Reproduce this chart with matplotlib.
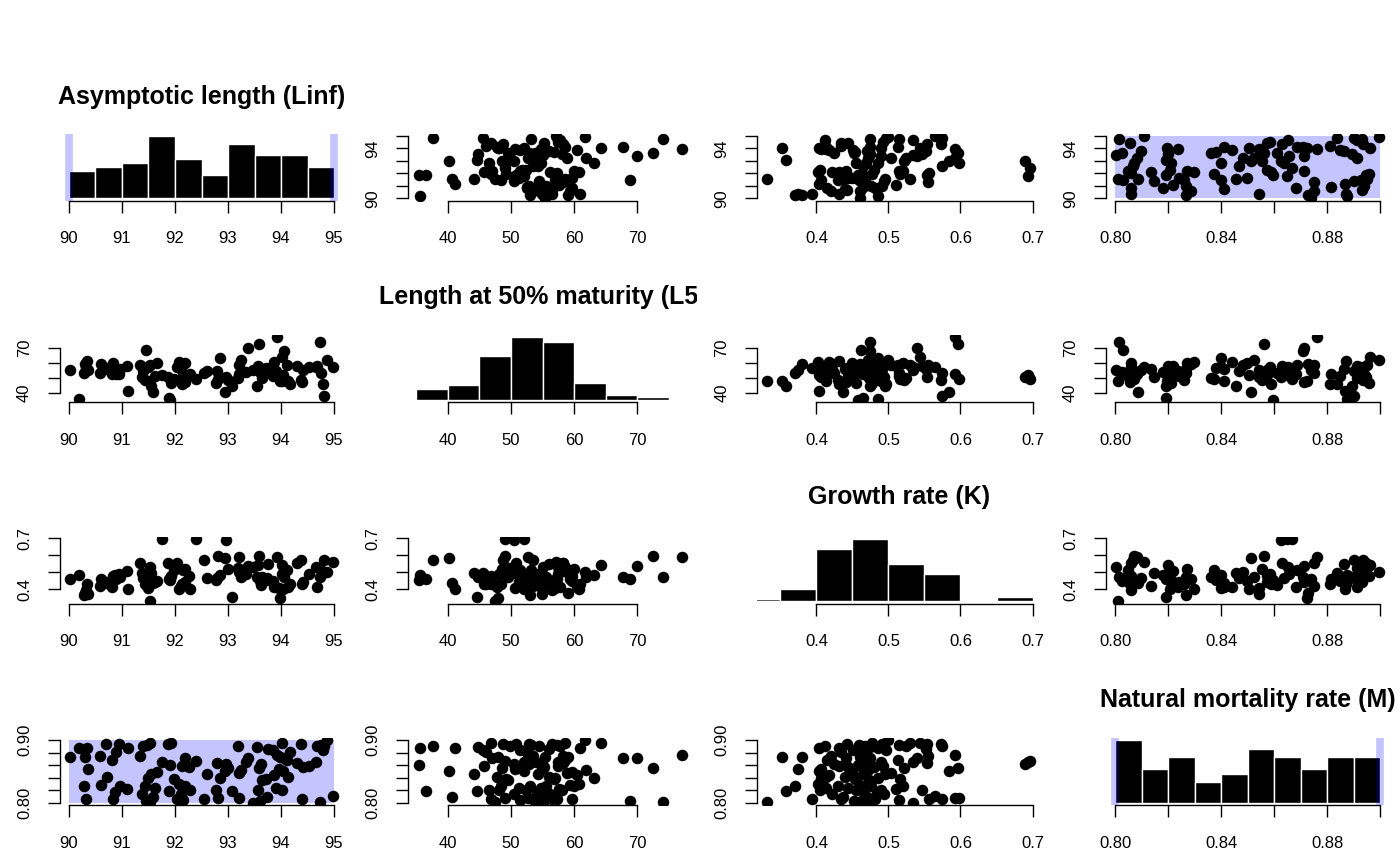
import matplotlib
matplotlib.use("Agg")
import matplotlib.pyplot as plt
from matplotlib.patches import Rectangle
from matplotlib.transforms import Bbox, TransformedBbox

plt.rcParams['font.family'] = ['Liberation Sans', 'DejaVu Sans']

linf = [93.47, 91.52, 94.74, 93.61, 91.46, 92.16, 94.39, 92.03, 90.84, 90.32,
        92.55, 92.82, 93.21, 91.58, 93.74, 94.98, 92.12, 91.37, 90.86, 93.08,
        91.89, 94.02, 93.57, 92.29, 92.78, 91.10, 93.90, 91.63, 91.44, 90.97,
        90.28, 92.19, 90.60, 92.07, 93.64, 91.98, 93.71, 92.85, 91.49, 94.13,
        90.71, 93.87, 91.55, 92.60, 93.20, 91.66, 94.04, 92.95, 93.24, 93.96,
        90.35, 93.00, 93.58, 94.42, 92.26, 94.53, 92.14, 91.90, 93.62, 92.97,
        94.30, 92.80, 91.76, 94.66, 93.34, 92.40, 90.81, 94.11, 94.06, 93.37,
        92.18, 93.98, 90.30, 90.02, 91.34, 90.58, 93.92, 94.16, 90.88, 94.79,
        93.84, 93.76, 91.12, 90.34, 90.18, 93.55, 94.82, 91.39, 94.68, 93.18,
        91.47, 94.76, 90.69, 94.37, 90.95, 91.86, 91.53, 91.92, 94.01, 94.87]

l50 = [55.0, 47.5, 74.0, 53.8, 68.8, 51.5, 46.9, 57.3, 59.6, 56.5,
       53.4, 49.0, 52.7, 40.7, 55.3, 57.1, 56.2, 50.4, 54.1, 44.6,
       36.5, 48.1, 58.0, 52.3, 46.5, 57.6, 54.7, 51.2, 48.4, 55.6,
       53.0, 59.9, 59.3, 60.8, 49.5, 49.2, 56.8, 63.1, 57.0, 47.8,
       56.0, 60.5, 44.2, 54.2, 58.8, 59.6, 52.0, 40.2, 61.9, 50.6,
       54.9, 48.5, 72.5, 55.2, 51.7, 57.5, 45.8, 35.4, 52.9, 50.5,
       58.2, 54.8, 52.0, 57.4, 54.0, 49.0, 52.5, 58.5, 67.7, 70.0,
       47.0, 48.0, 59.0, 55.4, 58.3, 53.5, 77.0, 46.0, 52.6, 45.6,
       51.4, 56.0, 41.2, 60.9, 35.6, 44.8, 37.7, 54.5, 57.8, 49.8,
       57.2, 53.2, 56.5, 48.8, 52.8, 50.8, 58.6, 46.8, 64.2, 61.7]

k = [0.534, 0.332, 0.474, 0.452, 0.462, 0.514, 0.434, 0.556, 0.481, 0.394,
     0.574, 0.598, 0.593, 0.437, 0.470, 0.564, 0.421, 0.494, 0.484, 0.358,
     0.464, 0.490, 0.546, 0.405, 0.455, 0.511, 0.414, 0.444, 0.430, 0.476,
     0.370, 0.520, 0.460, 0.402, 0.473, 0.516, 0.454, 0.485, 0.407, 0.413,
     0.440, 0.417, 0.495, 0.465, 0.504, 0.450, 0.403, 0.584, 0.471, 0.406,
     0.374, 0.522, 0.597, 0.444, 0.480, 0.493, 0.431, 0.458, 0.424, 0.690,
     0.553, 0.469, 0.694, 0.534, 0.489, 0.697, 0.415, 0.513, 0.475, 0.540,
     0.441, 0.352, 0.380, 0.461, 0.555, 0.420, 0.592, 0.434, 0.464, 0.496,
     0.451, 0.552, 0.404, 0.432, 0.486, 0.474, 0.575, 0.468, 0.412, 0.525,
     0.459, 0.514, 0.442, 0.573, 0.491, 0.554, 0.530, 0.477, 0.544, 0.500]

m = [0.8003, 0.8009, 0.8015, 0.8026, 0.8030, 0.8046, 0.8057, 0.8060, 0.8058, 0.8061,
     0.8065, 0.8072, 0.8082, 0.8084, 0.8097, 0.8109, 0.8134, 0.8147, 0.8178, 0.8190,
     0.8192, 0.8196, 0.8198, 0.8205, 0.8210, 0.8216, 0.8235, 0.8241, 0.8260, 0.8265,
     0.8267, 0.8272, 0.8285, 0.8297, 0.8360, 0.8373, 0.8379, 0.8397, 0.8399, 0.8409,
     0.8411, 0.8442, 0.8454, 0.8465, 0.8480, 0.8498, 0.8504, 0.8511, 0.8523, 0.8541,
     0.8543, 0.8555, 0.8561, 0.8572, 0.8574, 0.8585, 0.8587, 0.8595, 0.8611, 0.8624,
     0.8630, 0.8636, 0.8649, 0.8651, 0.8655, 0.8665, 0.8680, 0.8686, 0.8709, 0.8711,
     0.8713, 0.8723, 0.8725, 0.8737, 0.8748, 0.8750, 0.8762, 0.8811, 0.8813, 0.8837,
     0.8849, 0.8862, 0.8867, 0.8869, 0.8875, 0.8893, 0.8899, 0.8901, 0.8911, 0.8913,
     0.8925, 0.8930, 0.8932, 0.8936, 0.8938, 0.8944, 0.8950, 0.8956, 0.8962, 0.8995]

# histogram bins / counts on the diagonal
linf_breaks = [90, 90.5, 91, 91.5, 92, 92.5, 93, 93.5, 94, 94.5, 95]
linf_counts = [7, 8, 9, 16, 10, 6, 14, 11, 11, 8]
l50_breaks = [35, 40, 45, 50, 55, 60, 65, 70, 75, 80]
l50_counts = [5, 7, 21, 30, 28, 8, 2, 1, 0]
k_breaks = [0.30, 0.35, 0.40, 0.45, 0.50, 0.55, 0.60, 0.65, 0.70]
k_counts = [1, 6, 25, 30, 18, 13, 0, 2]
m_breaks = [0.80, 0.81, 0.82, 0.83, 0.84, 0.85, 0.86, 0.87, 0.88, 0.89, 0.90]
m_counts = [15, 8, 11, 5, 7, 13, 11, 8, 11, 11]

titles = ["Asymptotic length (Linf)", "Length at 50% maturity (L50)",
          "Growth rate (K)", "Natural mortality rate (M)"]

# prior bounds (blue bands) for Linf and M
priors = {0: (90, 95), 3: (0.80, 0.90)}

ticks = [[90, 91, 92, 93, 94, 95], [40, 50, 60, 70], [0.4, 0.5, 0.6, 0.7],
         [0.80, 0.82, 0.84, 0.86, 0.88, 0.90]]
xlab_show = [[90, 91, 92, 93, 94, 95], [40, 50, 60, 70], [0.4, 0.5, 0.6, 0.7],
             [0.80, 0.84, 0.88]]
ylab_show = [[90, 94], [40, 70], [0.4, 0.7], [0.80, 0.90]]
fmts = ["{:.0f}", "{:.0f}", "{:.1f}", "{:.2f}"]

data = [linf, l50, k, m]
hists = [(linf_breaks, linf_counts), (l50_breaks, l50_counts),
         (k_breaks, k_counts), (m_breaks, m_counts)]

W, H = 1400, 866
fig = plt.figure(figsize=(14, 8.66), dpi=100)

col_left = [59.5, 408.2, 756.9, 1105.6]
col_w = 284
row_top = [133.5, 335, 536.5, 738]
row_h = 67
title_y = [97, 297, 497, 700]
prior_col = (0, 0, 1, 0.23)

limits = []
for v in data:
    lo, hi = min(v), max(v)
    pad = 0.04 * (hi - lo)
    limits.append((lo - pad, hi + pad))


def labels(j, show):
    return [fmts[j].format(t) if any(abs(t - s) < 1e-9 for s in show) else ""
            for t in ticks[j]]


for i in range(4):
    for j in range(4):
        x0, y0 = col_left[j], row_top[i]
        ax = fig.add_axes([x0 / W, 1 - (y0 + row_h) / H, col_w / W, row_h / H])
        ax.set_facecolor("none")
        ax.set_xlim(limits[j])
        for s in ["top", "right"]:
            ax.spines[s].set_visible(False)
        ax.set_xticks(ticks[j])
        ax.set_xticklabels(labels(j, xlab_show[j]))
        ax.spines["bottom"].set_bounds(ticks[j][0], ticks[j][-1])
        ax.tick_params(axis="x", direction="out", length=8.3, width=1,
                       labelsize=12, pad=14)

        if i == j:
            br, ct = hists[j]
            ax.bar(br[:-1], ct, width=[b - a for a, b in zip(br[:-1], br[1:])],
                   align="edge", color="black", edgecolor="white", linewidth=1)
            top = max(ct)
            ax.set_ylim(-0.04 * top, 1.04 * top)
            ax.spines["left"].set_visible(False)
            ax.set_yticks([])
            if j in priors:
                for b in priors[j]:
                    ax.axvline(b, color=prior_col, lw=5.5, zorder=5)
            t = fig.text((x0 + col_w / 2) / W, 1 - title_y[i] / H, titles[j],
                         ha="center", va="center", fontsize=18,
                         fontweight="bold")
            cx0 = 350 * j
            t.set_clip_box(TransformedBbox(
                Bbox.from_extents(cx0 / W, 0, (cx0 + 347) / W, 1),
                fig.transFigure))
            t.set_clip_on(True)
        else:
            ax.set_ylim(limits[i])
            if i in priors and j in priors:
                xa, xb = priors[j]
                ya, yb = priors[i]
                ax.add_patch(Rectangle((xa, ya), xb - xa, yb - ya,
                                       facecolor=prior_col, edgecolor="none",
                                       zorder=0))
            ax.plot(data[j], data[i], "o", color="black", ms=8.3, mew=0,
                    zorder=2)
            ax.set_yticks(ticks[i])
            ax.set_yticklabels(labels(i, ylab_show[i]), rotation=90,
                               va="center")
            ax.spines["left"].set_bounds(ticks[i][0], ticks[i][-1])
            ax.tick_params(axis="y", direction="out", length=8.3, width=1,
                           labelsize=12, pad=11.5)
        for s in ["left", "bottom"]:
            ax.spines[s].set_linewidth(1)

fig.savefig("out.png", dpi=100)
